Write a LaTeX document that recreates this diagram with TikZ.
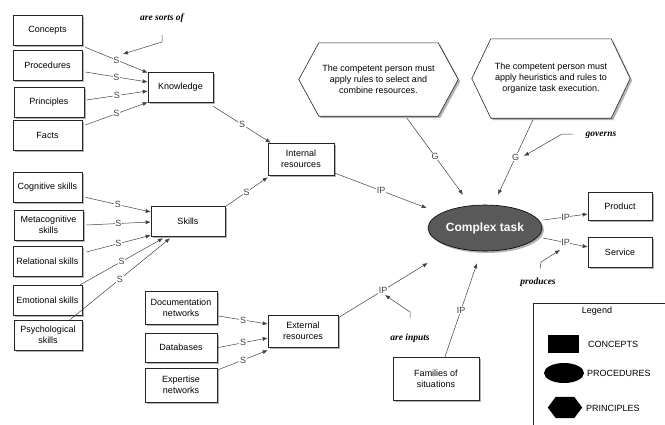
\documentclass[tikz,border=0pt]{standalone}
\usepackage{fontspec}
\setmainfont{Liberation Sans}
\newfontfamily\annofont{Liberation Serif}
\usetikzlibrary{shapes.geometric,arrows.meta,calc,shadows}
\pgfdeclarelayer{bg}
\pgfsetlayers{bg,main}
\newcommand\myhex[2]{%
 \begin{pgfonlayer}{bg}
 \fill[black!30] ([shift={(2,2)}]#1.west) -- ([shift={(#2+2,2)}]#1.north west) -- ([shift={(-#2+2,2)}]#1.north east) -- ([shift={(2,2)}]#1.east) -- ([shift={(-#2+2,2)}]#1.south east) -- ([shift={(#2+2,2)}]#1.south west) -- cycle;
 \draw[fill=white,draw=black!85,line width=0.6pt] (#1.west) -- ([shift={(#2,0)}]#1.north west) -- ([shift={(-#2,0)}]#1.north east) -- (#1.east) -- ([shift={(-#2,0)}]#1.south east) -- ([shift={(#2,0)}]#1.south west) -- cycle;
 \end{pgfonlayer}}
\begin{document}
\begin{tikzpicture}[x=1pt,y=-1pt,
  box/.style={draw=black!85, fill=white, line width=0.6pt, align=center,
    font=\fontsize{9}{11}\selectfont, inner sep=1pt,
    drop shadow={shadow xshift=2pt, shadow yshift=-2pt, fill=black!30, opacity=1}},
  hextext/.style={align=center, font=\fontsize{9}{11}\selectfont, inner sep=0pt},
  conn/.style={draw=black!75, line width=0.5pt, -{Latex[length=5pt,width=4pt]}},
  lab/.style={fill=white, inner sep=0.6pt, font=\fontsize{9}{10}\selectfont, text=black!75},
  anno/.style={font=\annofont\bfseries\itshape\fontsize{9.5}{11}\selectfont, inner sep=1pt},
  legtext/.style={font=\fontsize{9}{11}\selectfont, anchor=west, inner sep=0pt},
]
\useasboundingbox (0,0) rectangle (665,424);

% left concept boxes
\node[box, minimum width=69pt, minimum height=30pt] (concepts) at (47.5,30) {Concepts};
\node[box, minimum width=69pt, minimum height=30pt] (procedures) at (47.5,65) {Procedures};
\node[box, minimum width=70pt, minimum height=30pt] (principles) at (49,102) {Principles};
\node[box, minimum width=69pt, minimum height=30pt] (facts) at (47.5,135) {Facts};
\node[box, minimum width=65pt, minimum height=30pt] (knowledge) at (180.5,87) {Knowledge};

\node[box, minimum width=69pt, minimum height=30pt] (cognitive) at (47.5,187) {Cognitive skills};
\node[box, minimum width=69pt, minimum height=30pt] (meta) at (48.5,225) {Metacognitive\\skills};
\node[box, minimum width=69pt, minimum height=30pt] (relational) at (47.5,261) {Relational skills};
\node[box, minimum width=69pt, minimum height=30pt] (emotional) at (47.5,300) {Emotional skills};
\node[box, minimum width=68pt, minimum height=30pt] (psych) at (48,335) {Psychological\\skills};
\node[box, minimum width=74pt, minimum height=30pt] (skills) at (188,221) {Skills};

\node[box, minimum width=66pt, minimum height=32pt] (internal) at (301,159) {Internal\\resources};
\node[box, minimum width=70pt, minimum height=32pt] (external) at (303,331) {External\\resources};

\node[box, minimum width=72pt, minimum height=33pt] (doc) at (181,307.5) {Documentation\\networks};
\node[box, minimum width=72pt, minimum height=29pt] (databases) at (181,347.5) {Databases};
\node[box, minimum width=72pt, minimum height=34pt] (expertise) at (181,385) {Expertise\\networks};

\node[box, minimum width=86pt, minimum height=43pt] (families) at (436,378.5) {Families of\\situations};
\node[box, minimum width=64pt, minimum height=28pt] (product) at (620,206) {Product};
\node[box, minimum width=64pt, minimum height=30pt] (service) at (620,252) {Service};

\node[ellipse, draw=black, line width=0.6pt, fill=black!65, minimum width=114pt, minimum height=46pt,
  text=white, font=\bfseries\fontsize{12}{14}\selectfont, inner sep=0pt,
  drop shadow={shadow xshift=2pt, shadow yshift=-2pt, fill=black!30, opacity=1}] (complex) at (485,228) {Complex task};

% hexagons
\node[hextext, minimum width=159pt, minimum height=73pt] (hexa) at (378.5,79.5)
  {The competent person must\\apply rules to select and\\combine resources.};
\myhex{hexa}{20}
\node[hextext, minimum width=158pt, minimum height=79pt] (hexb) at (551,78.5)
  {The competent person must\\apply heuristics and rules to\\organize task execution.};
\myhex{hexb}{19}

% connectors: knowledge
\draw[conn] ([shift={(3,2)}]concepts.south east) -- node[lab]{S} ([shift={(0,1)}]knowledge.north west);
\draw[conn] ([shift={(3,7)}]procedures.east) -- node[lab]{S} ([shift={(0,-5)}]knowledge.west);
\draw[conn] ([shift={(2,-2)}]principles.east) -- node[lab]{S} ([shift={(0,4)}]knowledge.west);
\draw[conn] ([shift={(3,-10)}]facts.east) -- node[lab]{S} (knowledge.south west);
\draw[conn] ([shift={(0,4)}]knowledge.south east) -- node[lab]{S} ([shift={(3,0)}]internal.north west);

% skills
\draw[conn] ([shift={(3,-5)}]cognitive.south east) -- node[lab]{S} ([shift={(0,-9)}]skills.west);
\draw[conn] ([shift={(3,0)}]meta.east) -- node[lab]{S} ([shift={(0,1)}]skills.west);
\draw[conn] ([shift={(4,-9)}]relational.east) -- node[lab]{S} ([shift={(0,-1)}]skills.south west);
\draw[conn] ([shift={(-2,0)}]emotional.north east) -- node[lab]{S} ([shift={(-25,2)}]skills.south);
\draw[conn] ([shift={(22,0)}]psych.north) -- node[lab]{S} ([shift={(-18,2)}]skills.south);
\draw[conn] ([shift={(0,1)}]skills.north east) -- node[lab]{S} ([shift={(0,2)}]internal.south west);

% external
\draw[conn] ([shift={(1,8.5)}]doc.east) -- node[lab]{S} ([shift={(0,-7)}]external.west);
\draw[conn] ([shift={(1,0)}]databases.east) -- node[lab]{S} ([shift={(0,7)}]external.west);
\draw[conn] ([shift={(1,2)}]expertise.north east) -- node[lab]{S} ([shift={(0,3)}]external.south west);

% into complex task
\draw[conn] ([shift={(1,-2)}]internal.south east) -- node[lab]{IP} ([shift={(-1,-20)}]complex.west);
\draw[conn] ([shift={(0,3)}]external.north east) -- node[lab]{IP} ([shift={(0,35)}]complex.west);
\draw[conn] ([shift={(9,0)}]families.north) -- node[lab]{IP} ([shift={(-8,12)}]complex.south);
\draw[conn] ([shift={(28.5,2)}]hexa.south) -- node[lab]{G} ([shift={(-22,-10)}]complex.north);
\draw[conn] ([shift={(-18,1.5)}]hexb.south) -- node[lab]{G} ([shift={(13,-10)}]complex.north);

% outputs
\draw[conn] ([shift={(1,-8)}]complex.east) -- node[lab]{IP} ([shift={(0,8)}]product.west);
\draw[conn] ([shift={(1,10)}]complex.east) -- node[lab]{IP} ([shift={(0,-5)}]service.west);

% annotations
\node[anno] (sorts) at (162,18) {are sorts of};
\coordinate (sortsA) at (162,35);
\coordinate (sortsB) at (162,42);
\coordinate (sortsT) at (123,54);
\draw[conn] (sortsA) -- (sortsB) -- (sortsT);

\node[anno] (governs) at (601,135) {governs};
\coordinate (govA) at (573,134);
\coordinate (govB) at (562,134);
\coordinate (govT) at (524,156);
\draw[conn] (govA) -- (govB) -- (govT);

\node[anno] (produces) at (538,282) {produces};
\coordinate (prodA) at (540,269);
\coordinate (prodB) at (541,262);
\coordinate (prodT) at (560,250);
\draw[conn] (prodA) -- (prodB) -- (prodT);

\node[anno] (inputs) at (410,338) {are inputs};
\coordinate (inA) at (410,318);
\coordinate (inB) at (410,312);
\coordinate (inT) at (385,295);
\draw[conn] (inA) -- (inB) -- (inT);

% legend
\draw[black!85, line width=0.6pt] (533,303) rectangle (670,430);
\node[font=\fontsize{9}{11}\selectfont, inner sep=0pt] (legtitle) at (597,311) {Legend};
\node[fill=black, minimum width=31pt, minimum height=18pt, inner sep=0pt] (legc) at (563.5,344) {};
\node[legtext] (legct) at (588,344) {CONCEPTS};
\node[ellipse, fill=black, minimum width=40pt, minimum height=20pt, inner sep=0pt] (legp) at (564,373) {};
\node[legtext] (legpt) at (587,373) {PROCEDURES};
\node[minimum width=34pt, minimum height=21pt, inner sep=0pt] (legh) at (565,407.5) {};
\fill[black] (legh.west) -- ([shift={(8,0)}]legh.north west) -- ([shift={(-8,0)}]legh.north east) -- (legh.east) -- ([shift={(-8,0)}]legh.south east) -- ([shift={(8,0)}]legh.south west) -- cycle;
\node[legtext] (leght) at (586,408) {PRINCIPLES};
\end{tikzpicture}
\end{document}
